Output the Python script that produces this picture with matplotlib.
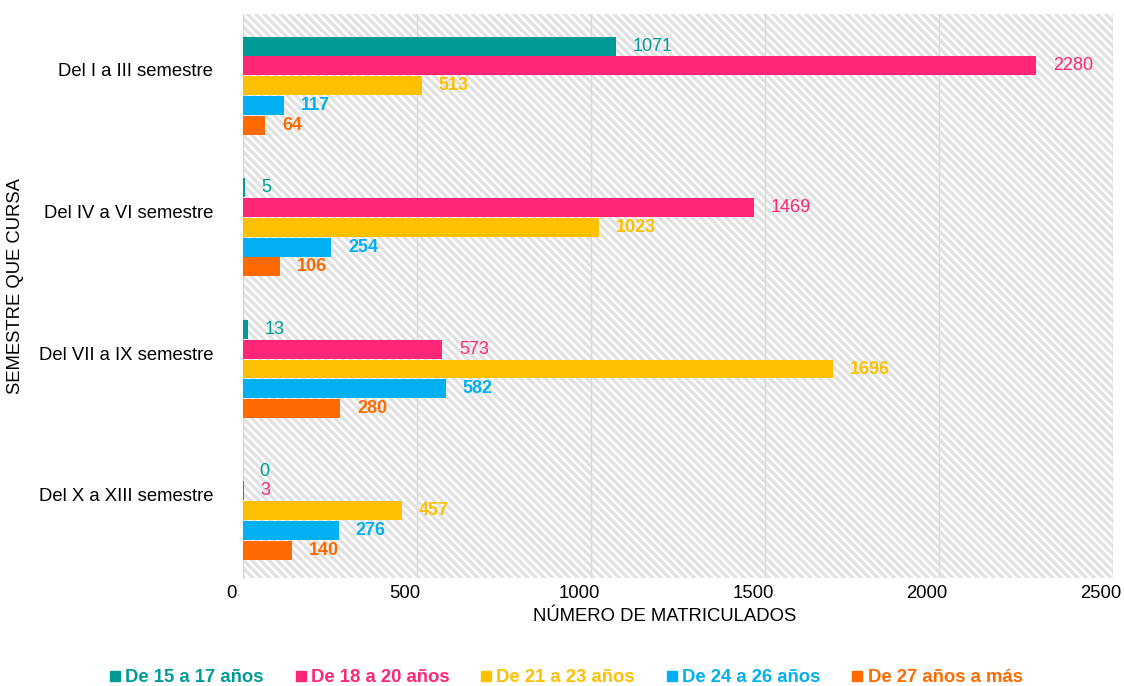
import matplotlib
matplotlib.use("Agg")
import matplotlib.pyplot as plt
import matplotlib.transforms as mtransforms
from matplotlib.patches import Rectangle
from matplotlib.lines import Line2D

plt.rcParams['font.family'] = ['Liberation Sans', 'DejaVu Sans']
plt.rcParams['hatch.linewidth'] = 2.5
plt.rcParams['hatch.color'] = '#e2e2e2'

categories = ["Del I a III semestre", "Del IV a VI semestre",
              "Del VII a IX semestre", "Del X a XIII semestre"]
series_names = ["De 15 a 17 años", "De 18 a 20 años", "De 21 a 23 años",
                "De 24 a 26 años", "De 27 años a más"]
values = {
    "De 15 a 17 años": [1071, 5, 13, 0],
    "De 18 a 20 años": [2280, 1469, 573, 3],
    "De 21 a 23 años": [513, 1023, 1696, 457],
    "De 24 a 26 años": [117, 254, 582, 276],
    "De 27 años a más": [64, 106, 280, 140],
}
colors = ["#009B96", "#FF2678", "#FFC000", "#00B0F0", "#FF6A00"]
label_bold = [False, False, True, True, True]

fig = plt.figure(figsize=(11.24, 6.86), dpi=100)
ax = fig.add_axes([243/1124, 1-578/686, 870/1124, 564/686])

# hatched background
bg = Rectangle((0, 0), 1, 1, transform=ax.transAxes, facecolor='white',
               edgecolor='#e2e2e2', hatch='\\\\\\\\', lw=0, zorder=0)
ax.add_patch(bg)
ax.set_facecolor('white')

bar_h = 0.134
step = 0.1394
first_off = -0.168
for k, name in enumerate(series_names):
    ys = [i + first_off + k * step for i in range(len(categories))]
    vals = values[name]
    ax.barh(ys, vals, height=bar_h, color=colors[k], zorder=3)
    for y, v in zip(ys, vals):
        ax.annotate(str(v), (v, y), xytext=(12, 0), textcoords='offset points',
                    va='center', ha='left', fontsize=13, color=colors[k],
                    fontweight='bold' if label_bold[k] else 'normal', zorder=4)

ax.set_xlim(0, 2500)
ax.set_ylim(3.586, -0.395)
ax.set_yticks(range(len(categories)))
ax.set_yticklabels(categories, fontsize=13.3)
ax.set_xticks([0, 500, 1000, 1500, 2000, 2500])
ax.tick_params(axis='x', labelsize=13.3, length=0, pad=5)
ax.tick_params(axis='y', length=0, pad=21.5)
shift = mtransforms.ScaledTranslation(-0.12, 0, fig.dpi_scale_trans)
for lab in ax.get_xticklabels():
    lab.set_transform(lab.get_transform() + shift)
ax.grid(axis='x', color='#d9d9d9', lw=1, zorder=1)
ax.set_axisbelow(True)
for s in ['top', 'right', 'bottom']:
    ax.spines[s].set_visible(False)
ax.spines['left'].set_color('#d9d9d9')

ax.set_xlabel("NÚMERO DE MATRICULADOS", fontsize=13.3)
ax.xaxis.set_label_coords(0.485, -0.053)
ax.set_ylabel("SEMESTRE QUE CURSA", fontsize=13.3)
ax.yaxis.set_label_coords(-0.252, 0.518)

handles = [Line2D([0], [0], marker='s', linestyle='none', markersize=6.5,
                  markerfacecolor=c, markeredgecolor=c) for c in colors]
leg = fig.legend(handles, series_names, loc='center', bbox_to_anchor=(566/1124, 1-678/686),
                 ncol=5, frameon=False, handlelength=0.6, handletextpad=0.25,
                 columnspacing=1.7,
                 prop={'weight': 'bold', 'size': 13.3}, labelcolor=colors)

fig.savefig("out.png", dpi=100)
